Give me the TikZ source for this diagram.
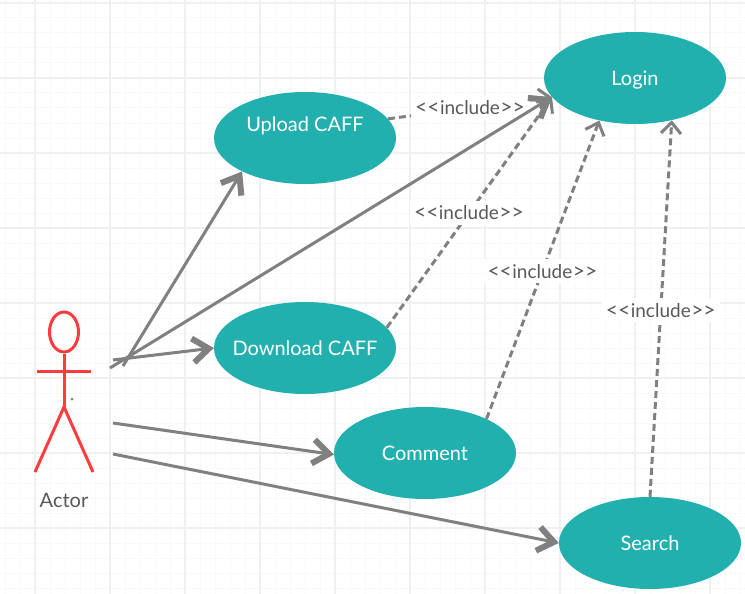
\documentclass[tikz,border=0pt]{standalone}
\usepackage{fontspec}
\setmainfont{Lato}
\usetikzlibrary{arrows.meta,positioning,shapes.geometric}
\definecolor{usecase}{HTML}{22B0AF}
\definecolor{connector}{HTML}{808080}
\definecolor{actorred}{HTML}{FF3B3F}
\definecolor{labelgray}{HTML}{595959}
\newcommand{\casetext}[2][0pt]{\makebox[0pt]{\smash{\raisebox{#1}{#2}}}}
\newcommand{\inclbig}{\fontsize{21}{23}\selectfont}
\newcommand{\incltext}{{\inclbig<{}<}\kern.5pt include\kern.5pt{\inclbig>{}>}}
\tikzset{
    usecase/.style = {ellipse, fill = usecase, text = white, minimum width = 182pt, minimum height = 92pt, inner sep = 0pt, text height = 15pt, text depth = 0pt, font = \fontsize{20}{24}\selectfont},
    assoc/.style = {line width = 3pt, connector, -{Straight Barb[length = 16pt, width = 24pt, line width = 6pt]}},
    incl/.style = {line width = 3pt, connector, dash pattern = on 7pt off 4pt, -{Straight Barb[length = 11pt, width = 20pt, line width = 3pt]}},
    incllabel/.style = {fill = white, text = labelgray, inner xsep = 4pt, inner ysep = 5pt, font = \fontsize{19}{23}\selectfont},
    limb/.style = {line width = 3pt, actorred}
}
\begin{document}
\begin{tikzpicture}[x = 1pt, y = -1pt]
    \useasboundingbox (0,0) rectangle (745,594);
    \fill[white] (0,0) rectangle (745,594);
    \foreach \gx in {5,20,...,740} \draw[black!2.5, line width = 1pt] (\gx,0) -- (\gx,594);
    \foreach \gy in {3,18,...,590} \draw[black!2.5, line width = 1pt] (0,\gy) -- (745,\gy);
    \foreach \gx in {35,110,...,740} \draw[black!6, line width = 1.5pt] (\gx,0) -- (\gx,594);
    \foreach \gy in {3,78,...,590} \draw[black!6, line width = 1.5pt] (0,\gy) -- (745,\gy);

    \node[usecase] (login) at (635,78) {\casetext{Login}};
    \node[usecase] (upload) at (305,138) {\casetext[14pt]{Upload CAFF}};
    \node[usecase] (download) at (305,348) {\casetext{Download CAFF}};
    \node[usecase] (comment) at (425,453) {\casetext{Comment}};
    \node[usecase] (search) at (650,543) {\casetext{Search}};

    \node[ellipse, draw = actorred, line width = 3pt, minimum width = 29pt, minimum height = 40pt, inner sep = 0pt] (head) at (64,332) {};
    \coordinate (hip) at (64,407);
    \coordinate (armleft) at (37,371);
    \coordinate (armright) at (91,371);
    \coordinate (footleft) at (35,472);
    \coordinate (footright) at (93,472);
    \draw[limb] (head.south) -- (hip);
    \draw[limb] (armleft) -- (armright);
    \draw[limb] (footleft) -- (hip) -- (footright);
    \node[circle, fill = connector, minimum size = 3pt, inner sep = 0pt] (speck) at (72,399) {};
    \node[text = labelgray, font = \fontsize{20}{24}\selectfont] (actor) at (64,500) {Actor};

    \draw[incl] (upload.13) -- node[pos = .5, incllabel] {\incltext} (login.193);
    \draw[incl] (download.14) -- node[pos = .497, incllabel] {\incltext} (login.193);
    \draw[incl] (comment.29) -- node[pos = .495, incllabel] {\incltext} (login.230);
    \draw[incl] (search.north) -- node[pos = .495, incllabel] {\incltext} (login.311);

    \coordinate (fromupload) at (123,366);
    \coordinate (fromlogin) at (110,368);
    \coordinate (fromdownload) at (113,360);
    \coordinate (fromcomment) at (113,423);
    \coordinate (fromsearch) at (113,454);
    \draw[assoc] (fromupload) -- (upload.208);
    \draw[assoc] (fromlogin) -- (login.193);
    \draw[assoc] (fromdownload) -- (download.west);
    \draw[assoc] (fromcomment) -- (comment.181);
    \draw[assoc] (fromsearch) -- (search.west);
\end{tikzpicture}
\end{document}
